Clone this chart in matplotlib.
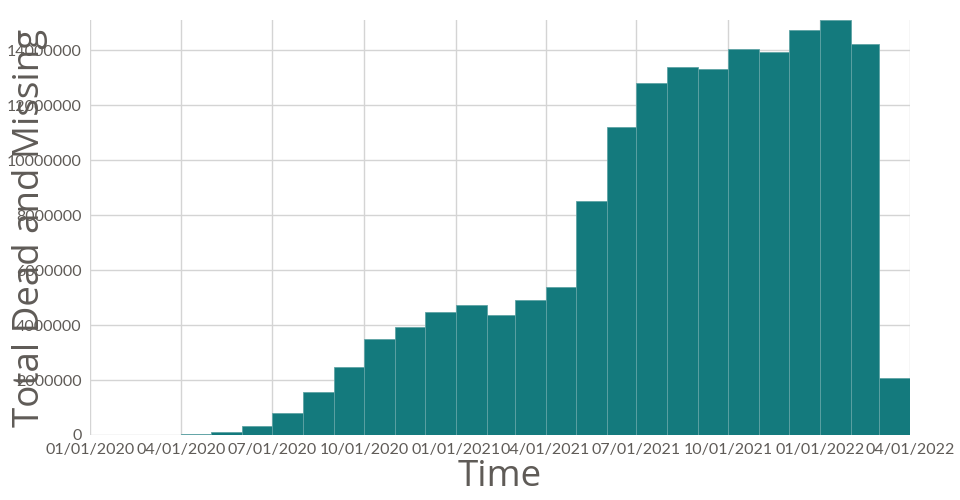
import pandas as pd
import matplotlib
matplotlib.use("Agg")
import matplotlib.pyplot as plt
import matplotlib.dates as mdates

plt.rcParams['font.family'] = ['Lato', 'DejaVu Sans']

# monthly totals, Apr 2020 .. Mar 2022
months = pd.date_range("2020-04-01", "2022-03-01", freq="MS")
totals = [20000, 100000, 340000, 810000, 1575000, 2470000, 3480000, 3920000,
          4470000, 4720000, 4360000, 4930000, 5380000, 8500000, 11210000,
          12800000, 13380000, 13310000, 14030000, 13920000, 14750000,
          15100000, 14220000, 2060000]
tick_dates = pd.date_range("2020-01-01", "2022-04-01", freq="3MS")

bar_color = "#147a7d"
text_color = "#5f5b57"

left = mdates.date2num(months)
right = mdates.date2num(months + pd.offsets.MonthBegin(1))

fig = plt.figure(figsize=(9.6, 5), dpi=100)
ax = fig.add_axes([0.094, 0.13, 0.854, 0.83])

ax.bar(left, totals, width=right - left, align="edge", color=bar_color,
       edgecolor="#5fa3a5", linewidth=0.6, zorder=2)

ax.set_xlim(mdates.date2num(tick_dates[0]), mdates.date2num(tick_dates[-1]))
ax.set_ylim(0, 15100000)
ax.set_xticks(mdates.date2num(tick_dates))
ax.set_xticklabels([d.strftime("%m/%d/%Y") for d in tick_dates])
ax.set_yticks(range(0, 15000001, 2000000))
ax.set_yticklabels([str(v) for v in range(0, 15000001, 2000000)])

ax.grid(True, color="#d4d4d4", linewidth=1, zorder=0)
ax.set_axisbelow(True)
for s in ax.spines.values():
    s.set_visible(False)
ax.tick_params(length=0, labelsize=11.5, labelcolor=text_color, pad=6)

ax.set_xlabel("Time", fontsize=26.5, color=text_color, labelpad=1,
              family=['Open Sans', 'DejaVu Sans'])
ax.set_ylabel("Total Dead and Missing", fontsize=26.5, color=text_color,
              family=['Open Sans', 'DejaVu Sans'])
ax.yaxis.set_label_coords(-0.052, 0.5)

fig.savefig("out.png", dpi=100)
